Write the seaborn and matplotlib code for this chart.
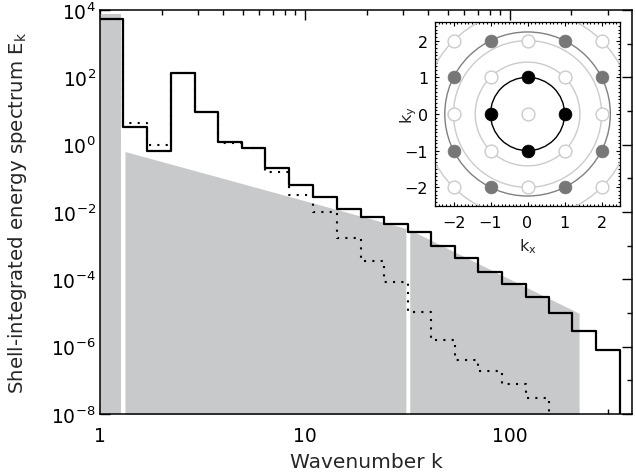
import numpy as np
import matplotlib
matplotlib.use("Agg")
import matplotlib.pyplot as plt
import seaborn as sns
from matplotlib.patches import Circle
from matplotlib.ticker import FixedLocator, NullFormatter, MultipleLocator

# ---- data -------------------------------------------------------------
# logarithmic shell edges in wavenumber k
shell_edges = [1.0, 1.30, 1.70, 2.22, 2.91, 3.78, 4.91, 6.38, 8.38, 10.98,
               14.27, 18.69, 24.37, 31.70, 41.50, 53.91, 70.37, 91.70,
               119.7, 155.5, 202.2, 264.8, 344.1]

# shell-integrated energy per shell (solid curve)
spectrum_solid = [5.5e3, 3.3, 0.64, 135.0, 9.2, 1.23, 0.81, 0.20, 0.062,
                  0.0286, 0.012, 0.0071, 0.0044, 0.0025, 9.5e-4, 4.3e-4,
                  1.7e-4, 7.4e-5, 2.95e-5, 9.8e-6, 2.9e-6, 8.1e-7]

# shell-integrated energy per shell (dotted curve)
spectrum_dotted = [5.5e3, 4.3, 1.0, 135.0, 9.2, 1.1, 0.81, 0.155, 0.032,
                   0.010, 1.66e-3, 3.6e-4, 8.5e-5, 1.1e-5, 1.6e-6, 4.1e-7,
                   1.95e-7, 7.8e-8, 2.95e-8]

# shaded reference ranges: forcing shell, k^-5/3 range, k^-3 range
forcing_k = [1.0, 1.266]
forcing_E = [7.6e3, 7.6e3]
inverse_k = [1.324, 31.1]
inverse_E = [0.626, 3.25e-3]
direct_k = [32.5, 218.0]
direct_E = [2.96e-3, 9.8e-6]

# wavevector lattice of the inset
lattice = [-2, -1, 0, 1, 2]
shell_radii = [1.0, np.sqrt(2), 2.0, np.sqrt(5), np.sqrt(8)]
x_major = [1, 10, 100]
x_major_labels = ["1", "10", "100"]
x_minor = [2, 3, 4, 5, 6, 7, 8, 9, 20, 30, 40, 50, 60, 70, 80, 90, 200, 300]
y_major = [1e-8, 1e-6, 1e-4, 1e-2, 1e0, 1e2, 1e4]
y_minor = [1e-7, 1e-5, 1e-3, 1e-1, 1e1, 1e3]

# ---- style ------------------------------------------------------------
sns.set_theme(style="ticks")
plt.rcParams["font.family"] = ["DejaVu Sans"]
plt.rcParams["mathtext.default"] = "regular"

GRAY = "#c8c9cb"
DARK = "#777777"
LIGHT = "#cbcbcb"
FLOOR = 1e-12


def step_path(edges, values, floor):
    xs, ys = [], []
    for i, v in enumerate(values):
        xs += [edges[i], edges[i + 1]]
        ys += [v, v]
    xs.append(edges[len(values)])
    ys.append(floor)
    return np.array(xs), np.array(ys)


fig = plt.figure(figsize=(6.36, 4.77), dpi=100)
ax = fig.add_axes([0.1572, 0.130, 0.8365, 0.847])
ax.set_xscale("log")
ax.set_yscale("log")

for kk, ee in [(forcing_k, forcing_E), (inverse_k, inverse_E), (direct_k, direct_E)]:
    ax.fill_between(kk, ee, FLOOR, color=GRAY, lw=0, zorder=1)

xs, ys = step_path(shell_edges, spectrum_dotted, FLOOR)
sns.lineplot(x=xs, y=ys, estimator=None, sort=False, color="black",
             lw=1.5, linestyle=(0, (1, 3)), ax=ax, zorder=3)
xs, ys = step_path(shell_edges, spectrum_solid, FLOOR)
sns.lineplot(x=xs, y=ys, estimator=None, sort=False, color="black",
             lw=1.6, ax=ax, zorder=4)

ax.set_xlim(1, 395)
ax.set_ylim(1e-8, 1e4)
ax.set_xticks(x_major)
ax.set_xticklabels(x_major_labels)
ax.xaxis.set_minor_locator(FixedLocator(x_minor))
ax.xaxis.set_minor_formatter(NullFormatter())
ax.set_yticks(y_major)
ax.yaxis.set_minor_locator(FixedLocator(y_minor))
ax.yaxis.set_minor_formatter(NullFormatter())
ax.tick_params(which="both", direction="in", top=True, right=True,
               width=1.0, colors="black", labelsize=13.5)
ax.tick_params(which="major", length=7)
ax.tick_params(which="minor", length=3.5)
ax.tick_params(axis="x", which="major", pad=9)
ax.tick_params(axis="y", which="major", pad=3)
for sp in ax.spines.values():
    sp.set_linewidth(1.1)
    sp.set_color("black")

ax.set_xlabel("Wavenumber k", fontsize=14.5)
ax.set_ylabel(r"Shell-integrated energy spectrum E$_\mathrm{k}$", fontsize=14.2)
ax.xaxis.set_label_coords(0.5, -0.094)
ax.yaxis.set_label_coords(-0.133, 0.5)

# ---- inset: wavevector lattice ----------------------------------------
axi = fig.add_axes([0.684, 0.5667, 0.291, 0.3845])
axi.set_facecolor("white")
ring_colors = ["black", LIGHT, LIGHT, "#808080", LIGHT]
for r, c in zip(shell_radii, ring_colors):
    axi.add_patch(Circle((0, 0), r, fill=False, ec=c, lw=1.0, zorder=1))

kx, ky = np.meshgrid(lattice, lattice)
kx = kx.ravel()
ky = ky.ravel()
k2 = kx ** 2 + ky ** 2
open_pts = (k2 != 1) & (k2 != 5)
sns.scatterplot(x=kx[open_pts], y=ky[open_pts], s=85, color="white",
                edgecolor=LIGHT, linewidth=1.0, ax=axi, zorder=3, legend=False)
sns.scatterplot(x=kx[k2 == 5], y=ky[k2 == 5], s=85, color=DARK,
                edgecolor=DARK, linewidth=0.5, ax=axi, zorder=3, legend=False)
sns.scatterplot(x=kx[k2 == 1], y=ky[k2 == 1], s=85, color="black",
                edgecolor="black", linewidth=0.5, ax=axi, zorder=4, legend=False)

axi.set_xlim(-2.5, 2.5)
axi.set_ylim(-2.5, 2.5)
axi.set_xticks(lattice)
axi.set_yticks(lattice)
axi.xaxis.set_minor_locator(MultipleLocator(0.1))
axi.yaxis.set_minor_locator(MultipleLocator(0.1))
axi.tick_params(which="both", direction="in", top=True, right=True,
                width=0.8, colors="black", labelsize=11.5)
axi.tick_params(which="major", length=3)
axi.tick_params(which="minor", length=1.6)
axi.tick_params(axis="x", which="major", pad=7)
axi.tick_params(axis="y", which="major", pad=5)
for sp in axi.spines.values():
    sp.set_linewidth(0.9)
    sp.set_color("black")
axi.set_xlabel(r"k$_\mathrm{x}$", fontsize=11.5)
axi.set_ylabel(r"k$_\mathrm{y}$", fontsize=11.5)
axi.xaxis.set_label_coords(0.5, -0.165)
axi.yaxis.set_label_coords(-0.088, 0.5)

fig.savefig("out.png", dpi=100)
